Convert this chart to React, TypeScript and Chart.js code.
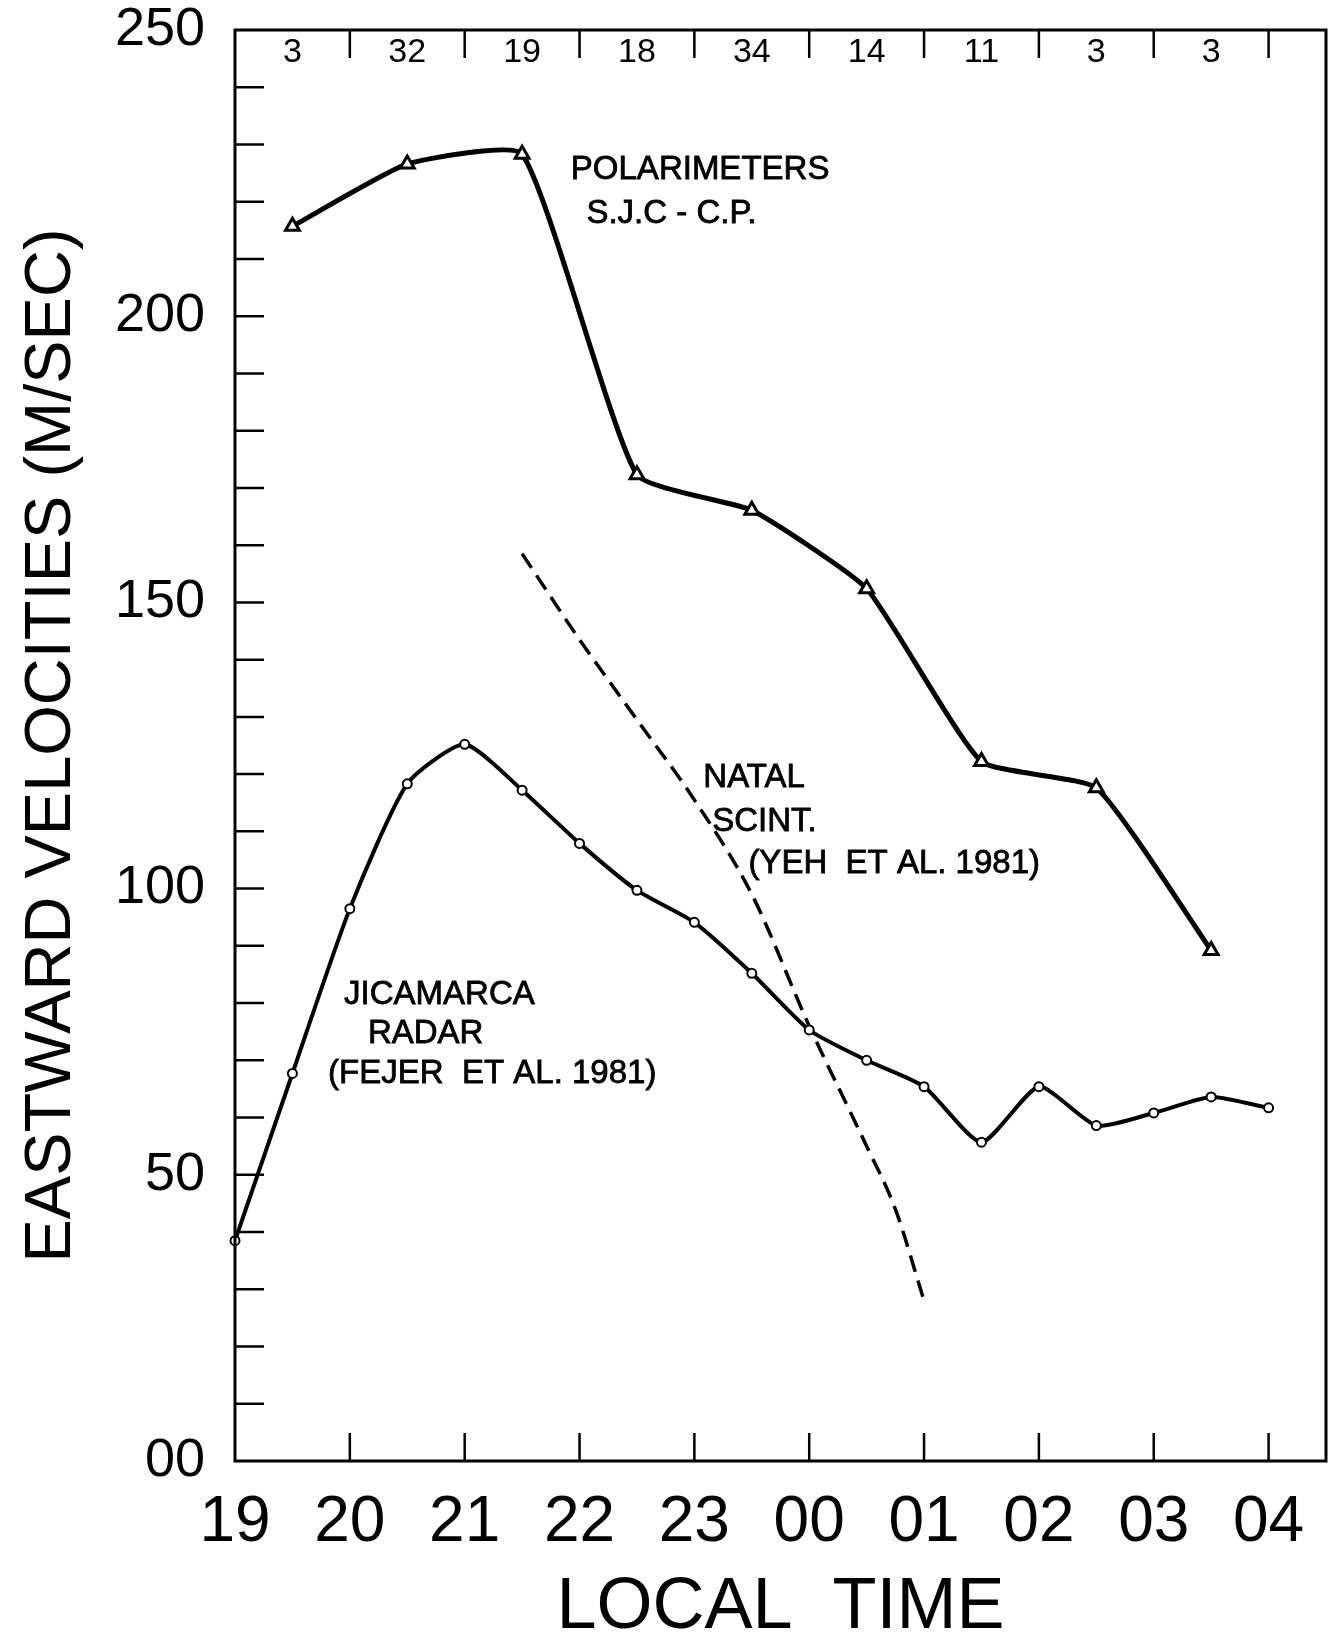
import React, { useEffect, useRef } from 'react';
import { Chart, registerables } from 'chart.js';

Chart.register(...registerables);

// ---- Data ----
// x positions are hours after 19 LT (0 = 19, 9 = 04)
const xTickLabels = ['19', '20', '21', '22', '23', '00', '01', '02', '03', '04'];
const yTickValues = [0, 50, 100, 150, 200, 250];
const yTickLabels = ['00', '50', '100', '150', '200', '250'];

const polarHours = [0.5, 1.5, 2.5, 3.5, 4.5, 5.5, 6.5, 7.5, 8.5];
const polarValues = [215.7, 226.6, 228.3, 172.3, 166.1, 152.4, 122.2, 117.6, 89.2];

const jicaHours = [0, 0.5, 1, 1.5, 2, 2.5, 3, 3.5, 4, 4.5, 5, 5.5, 6, 6.5, 7, 7.5, 8, 8.5, 9];
const jicaValues = [38.5, 67.7, 96.5, 118.3, 125.2, 117.2, 107.9, 99.7, 94.1, 85.2, 75.3, 70.0, 65.4, 55.7, 65.4, 58.6, 60.8, 63.6, 61.7];

const natalHours = [2.5, 3, 3.5, 4, 4.5, 5, 5.5, 5.75, 6];
const natalValues = [158.5, 143.5, 129.5, 115.5, 99, 76, 55, 44, 28];

const countHours = [0.5, 1.5, 2.5, 3.5, 4.5, 5.5, 6.5, 7.5, 8.5];
const countValues = [3, 32, 19, 18, 34, 14, 11, 3, 3];

const annoTexts = ['POLARIMETERS', 'S.J.C - C.P.', 'NATAL', 'SCINT.', '(YEH  ET AL. 1981)', 'JICAMARCA', 'RADAR', '(FEJER  ET AL. 1981)'];
const annoHours = [4.05, 3.8, 4.52, 4.61, 5.74, 1.78, 1.66, 2.24];
const annoValues = [225.5, 217.8, 119.4, 111.7, 104.3, 81.4, 74.7, 67.6];

const FONT = "'Liberation Sans', Arial, sans-serif";

const framePlugin = {
  id: 'frameTicks',
  afterDraw(chart: any) {
    const { ctx, chartArea } = chart;
    const { left, right, top, bottom } = chartArea;
    const x = chart.scales.x;
    const y = chart.scales.y;
    ctx.save();
    ctx.strokeStyle = '#000';
    ctx.lineWidth = 3;
    ctx.strokeRect(left, top, right - left, bottom - top);

    ctx.beginPath();
    ctx.lineWidth = 2.5;
    y.ticks.forEach((t: any) => {
      if (t.value > 0 && t.value < 250) {
        const py = y.getPixelForValue(t.value);
        ctx.moveTo(left, py);
        ctx.lineTo(left + 29, py);
      }
    });
    x.ticks.forEach((t: any) => {
      if (t.value > 0) {
        const px = x.getPixelForValue(t.value);
        ctx.moveTo(px, bottom);
        ctx.lineTo(px, bottom - 28);
        ctx.moveTo(px, top);
        ctx.lineTo(px, top + 28);
      }
    });
    ctx.stroke();

    ctx.fillStyle = '#000';
    ctx.textAlign = 'center';
    ctx.textBaseline = 'middle';
    ctx.font = `34px ${FONT}`;
    countValues.forEach((c, i) => {
      ctx.fillText(String(c), x.getPixelForValue(countHours[i]), top + 23);
    });

    ctx.font = `33px ${FONT}`;
    ctx.lineWidth = 0.8;
    annoTexts.forEach((s, i) => {
      const px = x.getPixelForValue(annoHours[i]);
      const py = y.getPixelForValue(annoValues[i]);
      ctx.fillText(s, px, py);
      ctx.strokeText(s, px, py);
    });
    ctx.restore();
  },
};

export default function App() {
  const ref = useRef<HTMLCanvasElement | null>(null);

  useEffect(() => {
    if (!ref.current) return;
    const toXY = (xs: number[], ys: number[]) => xs.map((v, i) => ({ x: v, y: ys[i] }));
    const chart = new Chart(ref.current, {
      type: 'line',
      data: {
        datasets: [
          {
            label: 'Polarimeters S.J.C - C.P.',
            data: toXY(polarHours, polarValues),
            borderColor: '#000',
            borderWidth: 5,
            tension: 0.15,
            pointStyle: 'triangle',
            pointRadius: 8,
            pointBorderWidth: 3,
            pointBackgroundColor: '#fff',
            pointBorderColor: '#000',
          },
          {
            label: 'Jicamarca Radar (Fejer et al. 1981)',
            data: toXY(jicaHours, jicaValues),
            borderColor: '#000',
            borderWidth: 4,
            tension: 0.2,
            pointStyle: 'circle',
            pointRadius: 4.5,
            pointBorderWidth: 2,
            pointBackgroundColor: '#fff',
            pointBorderColor: '#000',
            clip: false,
          },
          {
            label: 'Natal Scint. (Yeh et al. 1981)',
            data: toXY(natalHours, natalValues),
            borderColor: '#000',
            borderWidth: 3.5,
            borderDash: [17, 9],
            cubicInterpolationMode: 'monotone',
            pointRadius: 0,
          },
        ],
      },
      options: {
        animation: false,
        responsive: false,
        devicePixelRatio: 1,
        layout: { padding: { top: 30, right: 3, left: 0, bottom: 0 } },
        plugins: { legend: { display: false }, tooltip: { enabled: false } },
        scales: {
          x: {
            type: 'linear',
            min: 0,
            max: 9.5,
            grid: { display: false, drawTicks: false },
            border: { display: false },
            afterBuildTicks: (s: any) => {
              s.ticks = xTickLabels.map((_, i) => ({ value: i }));
            },
            afterFit: (s: any) => {
              s.height = 180;
              s.paddingLeft = 0;
              s.paddingRight = 0;
            },
            ticks: {
              autoSkip: false,
              maxRotation: 0,
              padding: 24,
              color: '#000',
              font: { family: FONT, size: 64 },
              callback: (v: any) => (Number.isInteger(v) ? xTickLabels[v] : ''),
            },
            title: {
              display: true,
              text: 'LOCAL  TIME',
              color: '#000',
              font: { family: FONT, size: 72, lineHeight: 0.9 },
              padding: { top: 0, bottom: 0 },
            },
          },
          y: {
            type: 'linear',
            min: 0,
            max: 250,
            grid: { display: false, drawTicks: false },
            border: { display: false },
            afterFit: (s: any) => {
              s.width = 235;
              s.paddingTop = 0;
              s.paddingBottom = 0;
            },
            ticks: {
              stepSize: 10,
              autoSkip: false,
              padding: 30,
              color: '#000',
              font: { family: FONT, size: 54, lineHeight: 1 },
              callback: (v: any) => {
                const i = yTickValues.indexOf(v);
                return i >= 0 ? yTickLabels[i] : '';
              },
            },
            title: {
              display: true,
              text: 'EASTWARD VELOCITIES (M/SEC)',
              color: '#000',
              font: { family: FONT, size: 65 },
              padding: { top: 13, bottom: 0 },
            },
          },
        },
      },
      plugins: [framePlugin],
    } as any);
    return () => chart.destroy();
  }, []);

  return (
    <div style={{ position: 'absolute', left: 0, top: 0, width: 1337, height: 1641, background: '#fff' }}>
      <canvas ref={ref} width={1337} height={1641} />
    </div>
  );
}
